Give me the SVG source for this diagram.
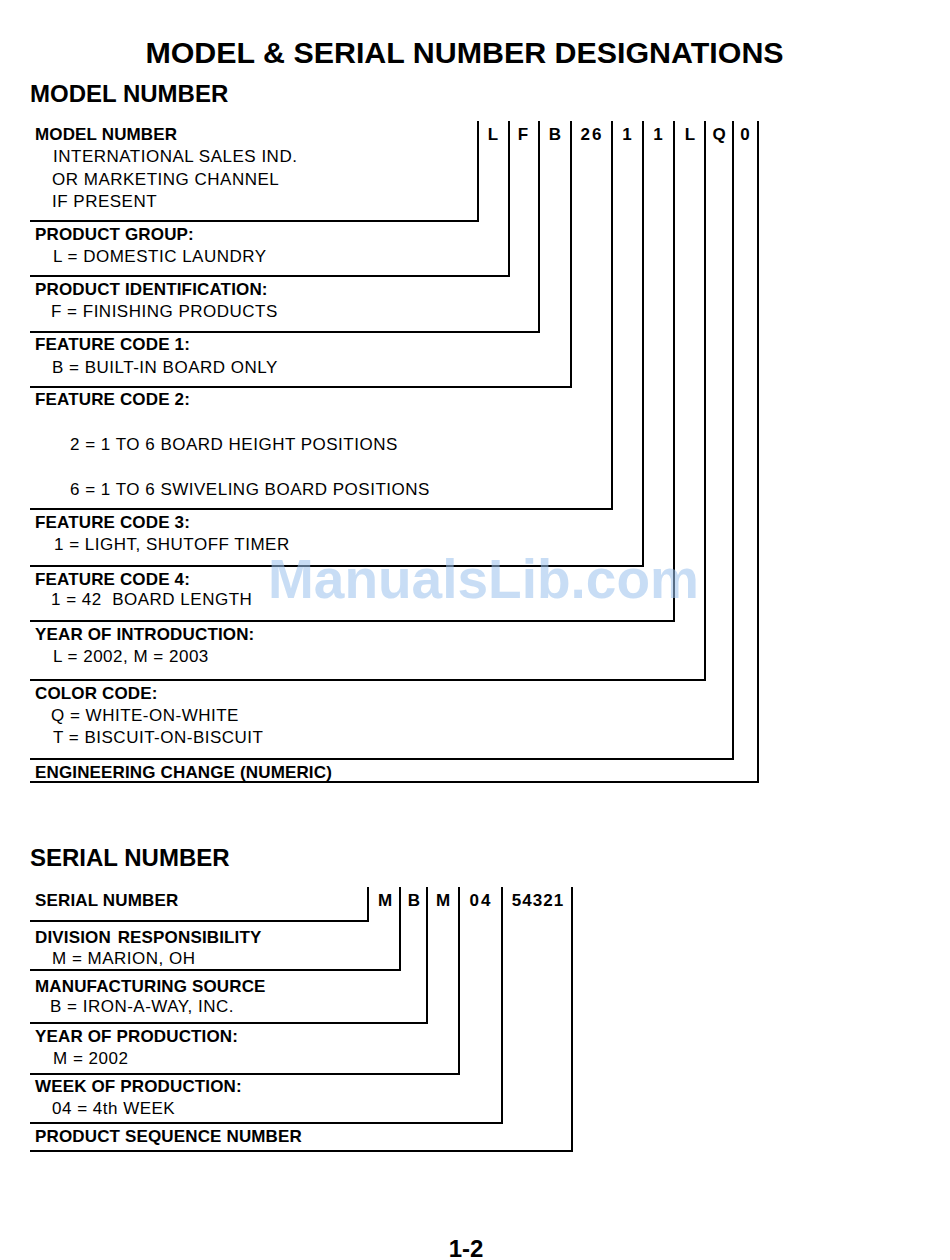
<svg xmlns="http://www.w3.org/2000/svg" width="950" height="1260" viewBox="0 0 950 1260">
<style>
.t{font-family:"Liberation Sans",Arial,sans-serif;fill:#000}
.b{font-weight:bold;font-size:17px;letter-spacing:0.15px}
.r{font-size:17px;letter-spacing:0.5px}
.h{font-weight:bold;font-size:24px}
.c{font-weight:bold;font-size:17px;text-anchor:middle}
.ln{fill:none;stroke:#000;stroke-width:2}
.wm{font-family:"Liberation Sans",Arial,sans-serif;font-weight:bold;font-size:55px;fill:#9cc3ee;opacity:0.55}
</style>
<rect width="950" height="1260" fill="#fff"/>
<text class="t" x="464.5" y="63" style="font-weight:bold;font-size:30.4px" text-anchor="middle">MODEL &amp; SERIAL NUMBER DESIGNATIONS</text>
<text class="t h" x="30" y="102">MODEL NUMBER</text>

<g id="connectors">
<path class="ln" d="M30 221H478V121"/>
<path class="ln" d="M30 276H509V121"/>
<path class="ln" d="M30 332H539V121"/>
<path class="ln" d="M30 387H571V121"/>
<path class="ln" d="M30 509H612V121"/>
<path class="ln" d="M30 566H643V121"/>
<path class="ln" d="M30 621H674V121"/>
<path class="ln" d="M30 680H705V121"/>
<path class="ln" d="M30 759H733V121"/>
<path class="ln" d="M30 782H758V121"/>
<path class="ln" d="M30 921H368V887"/>
<path class="ln" d="M30 970H400V887"/>
<path class="ln" d="M30 1023H427V887"/>
<path class="ln" d="M30 1074H459V887"/>
<path class="ln" d="M30 1123H502V887"/>
<path class="ln" d="M30 1151H572V887"/>
</g>

<g id="model-codes">
<text class="t c" x="493" y="140">L</text>
<text class="t c" x="523" y="140">F</text>
<text class="t c" x="555" y="140">B</text>
<text class="t c" x="592" y="140" style="letter-spacing:2px">26</text>
<text class="t c" x="627" y="140">1</text>
<text class="t c" x="658" y="140">1</text>
<text class="t c" x="690" y="140">L</text>
<text class="t c" x="719" y="140">Q</text>
<text class="t c" x="745" y="140">0</text>
</g>

<g id="model-number">
<text class="t b" x="35" y="140">MODEL NUMBER</text>
<text class="t r" x="53" y="162">INTERNATIONAL SALES IND.</text>
<text class="t r" x="52" y="185">OR MARKETING CHANNEL</text>
<text class="t r" x="52" y="207">IF PRESENT</text>
</g>
<g id="product-group">
<text class="t b" x="35" y="240">PRODUCT GROUP:</text>
<text class="t r" x="53" y="262">L = DOMESTIC LAUNDRY</text>
</g>
<g id="product-identification">
<text class="t b" x="35" y="295">PRODUCT IDENTIFICATION:</text>
<text class="t r" x="51" y="317">F = FINISHING PRODUCTS</text>
</g>
<g id="feature-code-1">
<text class="t b" x="35" y="350">FEATURE CODE 1:</text>
<text class="t r" x="52" y="373">B = BUILT-IN BOARD ONLY</text>
</g>
<g id="feature-code-2">
<text class="t b" x="35" y="405">FEATURE CODE 2:</text>
<text class="t r" x="70" y="450">2 = 1 TO 6 BOARD HEIGHT POSITIONS</text>
<text class="t r" x="70" y="495">6 = 1 TO 6 SWIVELING BOARD POSITIONS</text>
</g>
<g id="feature-code-3">
<text class="t b" x="35" y="528">FEATURE CODE 3:</text>
<text class="t r" x="54" y="550">1 = LIGHT, SHUTOFF TIMER</text>
</g>
<g id="feature-code-4">
<text class="t b" x="35" y="585">FEATURE CODE 4:</text>
<text class="t r" x="51" y="605" xml:space="preserve">1 = 42  BOARD LENGTH</text>
</g>
<g id="year-of-introduction">
<text class="t b" x="35" y="640">YEAR OF INTRODUCTION:</text>
<text class="t r" x="53" y="662">L = 2002, M = 2003</text>
</g>
<g id="color-code">
<text class="t b" x="35" y="699">COLOR CODE:</text>
<text class="t r" x="51" y="721">Q = WHITE-ON-WHITE</text>
<text class="t r" x="53" y="743">T = BISCUIT-ON-BISCUIT</text>
</g>
<g id="engineering-change">
<text class="t b" x="35" y="778">ENGINEERING CHANGE (NUMERIC)</text>
</g>

<text class="t h" x="30" y="866">SERIAL NUMBER</text>

<g id="serial-codes">
<text class="t c" x="385" y="906">M</text>
<text class="t c" x="414" y="906">B</text>
<text class="t c" x="443" y="906">M</text>
<text class="t c" x="481" y="906" style="letter-spacing:2px">04</text>
<text class="t c" x="538" y="906" style="letter-spacing:1px">54321</text>
</g>
<g id="serial-number">
<text class="t b" x="35" y="906">SERIAL NUMBER</text>
</g>
<g id="division-responsibility">
<text class="t b" x="35" y="943" style="word-spacing:2px">DIVISION RESPONSIBILITY</text>
<text class="t r" x="52" y="964">M = MARION, OH</text>
</g>
<g id="manufacturing-source">
<text class="t b" x="35" y="992">MANUFACTURING SOURCE</text>
<text class="t r" x="50" y="1012">B = IRON-A-WAY, INC.</text>
</g>
<g id="year-of-production">
<text class="t b" x="35" y="1042">YEAR OF PRODUCTION:</text>
<text class="t r" x="53" y="1064">M = 2002</text>
</g>
<g id="week-of-production">
<text class="t b" x="35" y="1092">WEEK OF PRODUCTION:</text>
<text class="t r" x="52" y="1114">04 = 4th WEEK</text>
</g>
<g id="product-sequence-number">
<text class="t b" x="35" y="1142">PRODUCT SEQUENCE NUMBER</text>
</g>

<text class="wm" x="268" y="598">ManualsLib.com</text>
<text class="t h" x="466" y="1257" text-anchor="middle">1-2</text>
</svg>
